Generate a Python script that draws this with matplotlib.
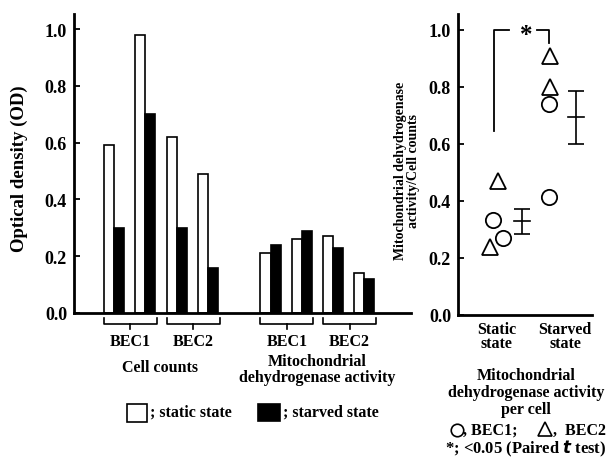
import matplotlib
matplotlib.use("Agg")
import matplotlib.pyplot as plt
from matplotlib.patches import Rectangle
from matplotlib.lines import Line2D
import matplotlib.transforms as mtransforms

plt.rcParams['font.family'] = ['Liberation Serif', 'DejaVu Serif']
plt.rcParams['font.weight'] = 'bold'

# ---- data ----
groups = ["BEC1", "BEC2", "BEC1", "BEC2"]
group_titles = ["Cell counts", "Mitochondrial\ndehydrogenase activity"]
static_vals = [0.59, 0.98, 0.62, 0.49, 0.21, 0.26, 0.27, 0.14]
starved_vals = [0.30, 0.70, 0.30, 0.16, 0.24, 0.29, 0.23, 0.12]
pair_pos = [0, 1, 2, 3, 5, 6, 7, 8]

yticks = [0.0, 0.2, 0.4, 0.6, 0.8, 1.0]

# right panel: per-cell ratio
static_circles = [0.333, 0.27]
static_triangles = [0.47, 0.24]
starved_circles = [0.74, 0.415]
starved_triangles = [0.91, 0.80]
static_mean, static_lo, static_hi = 0.33, 0.285, 0.373
starved_mean, starved_lo, starved_hi = 0.695, 0.60, 0.786
state_labels = ["Static\nstate", "Starved\nstate"]

W, H = 609, 464
fig = plt.figure(figsize=(W / 100, H / 100), dpi=100)

def fx(px):
    return px / W

def fy(py):
    return 1 - py / H

# ---- left panel ----
ax = fig.add_axes([fx(74), fy(314), fx(411) - fx(74), fy(15) - fy(314)])
bw = 0.32
for p, s, st in zip(pair_pos, static_vals, starved_vals):
    ax.bar(p, s, width=bw, align='edge', color='white', edgecolor='black', linewidth=1.2)
    ax.bar(p + bw, st, width=bw, align='edge', color='black', edgecolor='black', linewidth=1.2)
ax.set_xlim(-0.96, 9.81)
ax.set_ylim(0, 1.053)
ax.set_yticks(yticks)
ax.set_yticklabels([f"{t:.1f}" for t in yticks], fontsize=13, fontweight='bold')
ax.tick_params(axis='y', direction='in', length=4, width=1.3, pad=5)
ax.set_xticks([])
for sp in ['top', 'right']:
    ax.spines[sp].set_visible(False)
ax.spines['left'].set_linewidth(2.0)
ax.spines['bottom'].set_linewidth(2.0)

trans = mtransforms.blended_transform_factory(ax.transData, fig.transFigure)
group_starts = [0, 2, 5, 7]
for g, gs in zip(groups, group_starts):
    x0, x1 = gs, gs + 1 + 2 * bw + 0.05
    xm = (x0 + x1) / 2
    yt, yb, ym = fy(319), fy(325), fy(330)
    ln = Line2D([x0, x0, x1, x1], [yt, yb, yb, yt], color='black', lw=1.2, transform=trans, clip_on=False)
    fig.add_artist(ln)
    ln2 = Line2D([xm, xm], [yb, ym], color='black', lw=1.2, transform=trans, clip_on=False)
    fig.add_artist(ln2)
    fig.text(xm, fy(342), g, transform=trans, ha='center', va='center', fontsize=11.5, fontweight='bold')

fig.text(1.8, fy(368), group_titles[0], transform=trans, ha='center', va='center', fontsize=11.5, fontweight='bold')
fig.text(6.8, fy(370), group_titles[1], transform=trans, ha='center', va='center', fontsize=11.5,
         fontweight='bold', linespacing=0.95)

fig.text(fx(19), fy(169), "Optical density (OD)", rotation=90, ha='center', va='center',
         fontsize=13.5, fontweight='bold')

# legend
fig.add_artist(Rectangle((fx(127), fy(423)), fx(20), fy(405) - fy(423), transform=fig.transFigure,
                         facecolor='white', edgecolor='black', lw=1.2))
fig.text(fx(150), fy(413), "; static state", ha='left', va='center', fontsize=11.5, fontweight='bold')
fig.add_artist(Rectangle((fx(258), fy(422)), fx(22), fy(405) - fy(422), transform=fig.transFigure,
                         facecolor='black', edgecolor='black', lw=1.2))
fig.text(fx(283), fy(413), "; starved state", ha='left', va='center', fontsize=11.5, fontweight='bold')

# ---- right panel ----
ax2 = fig.add_axes([fx(458), fy(316), fx(592) - fx(458), fy(15) - fy(316)])
ax2.set_xlim(0, 10)
ax2.set_ylim(0, 1.056)
ax2.set_yticks(yticks)
ax2.set_yticklabels([f"{t:.1f}" for t in yticks], fontsize=13, fontweight='bold')
ax2.tick_params(axis='y', direction='in', length=4, width=1.3, pad=5)
ax2.set_xticks([])
for sp in ['top', 'right']:
    ax2.spines[sp].set_visible(False)
ax2.spines['left'].set_linewidth(2.0)
ax2.spines['bottom'].set_linewidth(2.0)

mk = dict(markersize=11, markerfacecolor='white', markeredgecolor='black', markeredgewidth=1.3,
          linestyle='none', clip_on=False)
ax2.plot([2.6, 3.35], static_circles, marker='o', **mk)
ax2.plot([3.0, 2.4], static_triangles, marker='^', **mk)
ax2.plot([6.8, 6.8], starved_circles, marker='o', **mk)
ax2.plot([6.85, 6.85], starved_triangles, marker='^', **mk)

for xm, m, lo, hi in [(4.8, static_mean, static_lo, static_hi), (8.8, starved_mean, starved_lo, starved_hi)]:
    ax2.errorbar([xm], [m], yerr=[[m - lo], [hi - m]], fmt='none', ecolor='black', elinewidth=1.2,
                 capsize=6, capthick=1.2)
    ax2.plot([xm - 0.6, xm + 0.6], [m, m], color='black', lw=1.2)

# significance bracket
ax2.plot([2.7, 2.7, 3.8], [0.645, 1.0, 1.0], color='black', lw=1.3, clip_on=False)
ax2.plot([5.9, 6.8, 6.8], [1.0, 1.0, 0.955], color='black', lw=1.3, clip_on=False)
ax2.text(5.1, 0.985, "*", ha='center', va='center', fontsize=18, fontweight='bold')

trans2 = mtransforms.blended_transform_factory(ax2.transData, fig.transFigure)
fig.text(2.9, fy(337), state_labels[0], transform=trans2, ha='center', va='center', fontsize=11.5,
         fontweight='bold', linespacing=0.9)
fig.text(8.0, fy(337), state_labels[1], transform=trans2, ha='center', va='center', fontsize=11.5,
         fontweight='bold', linespacing=0.9)

fig.text(fx(407), fy(171), "Mitochondrial dehydrogenase\nactivity/Cell counts", rotation=90,
         ha='center', va='center', fontsize=10, fontweight='bold', linespacing=0.95)

cx = fx(526)
fig.text(cx, fy(393), "Mitochondrial\ndehydrogenase activity\nper cell", ha='center', va='center',
         fontsize=11.5, fontweight='bold', linespacing=1.05)
# symbol key line
ykey = fy(431)
fig.add_artist(Line2D([fx(457)], [ykey], marker='o', markersize=9, markerfacecolor='white',
                      markeredgecolor='black', markeredgewidth=1.2, transform=fig.transFigure))
fig.text(fx(463), ykey, ", BEC1;", ha='left', va='center', fontsize=11.5, fontweight='bold')
fig.add_artist(Line2D([fx(545)], [ykey + 0.002], marker='^', markersize=10, markerfacecolor='white',
                      markeredgecolor='black', markeredgewidth=1.2, transform=fig.transFigure))
fig.text(fx(553), ykey, ",  BEC2", ha='left', va='center', fontsize=11.5, fontweight='bold')
fig.text(fx(526), fy(449), r"*; <0.05 (Paired $\it{t}$ test)", ha='center', va='center', fontsize=12,
         fontweight='bold')

fig.savefig("out.png", dpi=100)
